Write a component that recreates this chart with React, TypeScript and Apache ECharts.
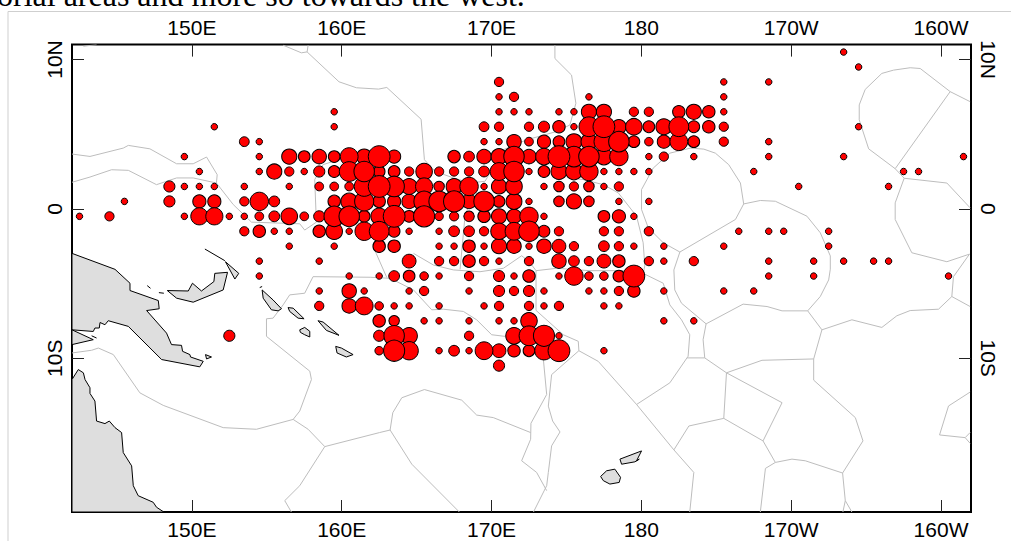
import React, { useEffect, useRef } from "react";
import * as echarts from "echarts";

const headerText = "orial areas and more so towards the west.";
const lonTicks = [150, 160, 170, 180, 190, 200];
const lonLabels = ["150E", "160E", "170E", "180", "170W", "160W"];
const latTicks = [10, 0, -10];
const latLabels = ["10N", "0", "10S"];

// latitude, then lon, catch pairs
const catchRows: [number, number[]][] = [
  [10.5, [193.5,1]],
  [9.5, [194.5,1]],
  [8.5, [170.5,2, 185.5,1, 188.5,1]],
  [7.5, [170.5,1, 171.5,2, 176.5,1, 185.5,1]],
  [6.5, [159.5,1, 170.5,1, 171.5,1, 172.5,1, 174.5,1, 175.5,1, 176.5,5.3, 177.5,5.3, 179.5,2, 180.5,2, 182.5,3.6, 183.5,5.3, 184.5,3.6, 185.5,1]],
  [5.5, [151.5,1, 159.5,1, 169.5,2.25, 170.5,2, 172.5,2, 173.5,2.9, 174.5,3.6, 175.5,1, 176.5,9, 177.5,10.9, 178.5,4.8, 179.5,6.3, 180.5,3.2, 181.5,5.8, 182.5,9, 183.5,3.2, 184.5,3.6, 185.5,2, 194.5,1]],
  [4.5, [153.5,2.25, 154.5,1, 169.5,1, 170.5,1, 171.5,4.8, 172.5,1.8, 173.5,4, 174.5,3.2, 175.5,5.8, 176.5,5.8, 177.5,9, 178.5,9.6, 179.5,3.2, 180.5,1.7, 181.5,4, 182.5,7.3, 183.5,3.2, 185.5,2, 188.5,1]],
  [3.5, [149.5,1, 154.5,1, 156.5,5.3, 157.5,3.2, 158.5,4.8, 159.5,3.2, 160.5,7.3, 161.5,5.3, 162.5,10.9, 163.5,4, 167.5,3.6, 168.5,2.7, 169.5,4.8, 170.5,5.8, 171.5,9.6, 172.5,4.8, 173.5,6.3, 174.5,10.9, 175.5,9.6, 176.5,9.6, 177.5,6.3, 178.5,7.8, 180.5,1, 181.5,2, 183.5,1, 188.5,1, 193.5,1, 201.5,1]],
  [2.5, [150.5,1, 154.5,1, 155.5,5.3, 156.5,2, 157.5,1, 158.5,2.9, 159.5,3.2, 160.5,9, 161.5,9.6, 162.5,3.2, 163.5,3.2, 164.5,2, 165.5,6.3, 166.5,2, 167.5,2, 168.5,2, 169.5,2.7, 170.5,7.3, 171.5,9.6, 172.5,1, 173.5,3.2, 174.5,5.8, 175.5,6.3, 176.5,7.8, 177.5,1, 178.5,1, 179.5,1, 180.5,1, 187.5,1, 197.5,1, 198.5,1]],
  [1.5, [148.5,2.9, 149.5,1, 150.5,1, 151.5,1, 153.5,1, 156.5,1, 158.5,1.8, 159.5,1.8, 160.5,1.8, 161.5,9, 162.5,10.9, 163.5,9.6, 164.5,5.8, 165.5,6.8, 166.5,2.6, 167.5,5.8, 168.5,7.8, 169.5,1, 170.5,5.3, 171.5,6.3, 173.5,1, 174.5,2.6, 175.5,2, 176.5,2.6, 177.5,1, 178.5,2, 190.5,1, 196.5,1]],
  [0.5, [145.5,1, 148.5,2.9, 150.5,4, 151.5,4, 153.5,2, 154.5,7.8, 155.5,2.7, 159.5,3.6, 160.5,6.3, 161.5,8.4, 162.5,3.6, 163.5,4, 164.5,4.8, 165.5,9.6, 166.5,9.6, 167.5,10.2, 168.5,4.8, 169.5,9.6, 170.5,3.2, 171.5,5.8, 172.5,1, 174.5,2.6, 175.5,5.3, 176.5,2.6, 178.5,1, 180.5,1]],
  [-0.5, [142.5,1, 144.5,2, 149.5,1, 150.5,6.8, 151.5,6.8, 152.5,1, 153.5,1, 154.5,1.8, 155.5,2.7, 156.5,6.3, 157.5,1.8, 158.5,2.9, 159.5,9.6, 160.5,9.6, 161.5,3.2, 162.5,6.3, 163.5,10.9, 164.5,3.2, 165.5,10.2, 166.5,1.7, 167.5,2, 168.5,2.6, 169.5,3.6, 170.5,5.3, 171.5,4.8, 172.5,7.8, 173.5,1, 177.5,3.2, 178.5,4, 179.5,1]],
  [-1.5, [153.5,2, 154.5,3.6, 155.5,1, 156.5,1, 158.5,3.6, 159.5,6.3, 160.5,1, 161.5,7.8, 162.5,9, 163.5,3.2, 164.5,1, 166.5,1, 167.5,2.7, 168.5,2.7, 169.5,2, 170.5,6.3, 171.5,7.3, 172.5,9.6, 173.5,3.2, 174.5,2, 177.5,2, 178.5,2, 180.5,2, 186.5,1, 188.5,1, 189.5,1, 192.5,1]],
  [-2.5, [156.5,1, 159.5,1, 162.5,3.6, 163.5,3.6, 166.5,1, 167.5,1, 168.5,3.6, 169.5,1, 170.5,5.3, 171.5,4.8, 172.5,1, 173.5,4.8, 174.5,4.4, 175.5,2, 177.5,2.7, 178.5,2, 179.5,1, 181.5,1, 185.5,1, 192.5,1]],
  [-3.5, [154.5,1, 158.5,1, 164.5,4.4, 166.5,2, 167.5,2, 168.5,3.6, 169.5,2, 170.5,1, 172.5,2, 174.5,4.8, 175.5,2.7, 176.5,2, 177.5,4.4, 178.5,3.6, 180.5,2, 181.5,1, 183.5,2, 188.5,1, 191.5,1, 193.5,1, 195.5,1, 196.5,1]],
  [-4.5, [154.5,1, 160.5,1, 162.5,1, 163.5,2.7, 164.5,3.2, 165.5,1.7, 166.5,1, 168.5,2, 170.5,2.9, 171.5,1, 172.5,3.6, 174.5,1, 175.5,7.8, 176.5,1.7, 177.5,1.7, 178.5,3.2, 179.5,10.9, 188.5,1, 191.5,1, 200.5,1]],
  [-5.5, [158.5,1, 160.5,4.8, 161.5,1, 164.5,1, 165.5,2, 168.5,1, 170.5,2.9, 171.5,2, 172.5,2.9, 173.5,1, 176.5,1, 177.5,1, 178.5,2, 179.5,3.6, 181.5,1, 185.5,1, 187.5,1]],
  [-6.5, [158.5,2, 160.5,4.8, 161.5,7.3, 162.5,1.7, 163.5,1, 164.5,1, 166.5,1, 169.5,1, 170.5,2, 172.5,2, 173.5,1, 174.5,2, 177.5,1, 178.5,1]],
  [-7.5, [162.5,3.6, 163.5,2.6, 165.5,1, 166.5,1, 168.5,1, 170.5,1, 171.5,1, 172.5,6.3, 181.5,1, 183.5,1]],
  [-8.5, [152.5,2.9, 162.5,2.9, 163.5,9.6, 164.5,6.3, 168.5,2, 171.5,6.3, 172.5,9, 173.5,10.2, 174.5,1]],
  [-9.5, [162.5,1.7, 163.5,10.2, 164.5,7.8, 166.5,1, 167.5,2.7, 168.5,1, 169.5,7.3, 170.5,4.4, 171.5,3.6, 172.5,3.2, 173.5,7.8, 174.5,10.9, 177.5,1]],
  [-10.5, [170.5,2.9]],
];

type Pt = [number, number];

const eezLines: Pt[][] = [
  [[142.76,10.89],[143.64,11]],
  [[142,3.67],[143.2,3.51],[145.42,4.07],[145.76,4.25],[147.2,4.02],[148.98,3.02],[150.09,3.02],[150.98,3.47],[151.69,2.29],[151.64,1.73]],
  [[142,1.78],[143.2,2.13],[144.64,2.62],[145.76,2.58],[147.64,1.62],[148.98,2.07],[150.09,2.07],[151.64,1.73],[152.76,0.29],[153.98,-0.89],[157.2,-1],[157.53,-1.42],[158.31,-0.89],[158.2,1.96],[158.76,2.96],[159.64,3.25]],
  [[156.09,10.96],[157.31,10.45],[157.69,10.51],[159.82,8.51],[160.98,8.11],[162.46,8.02],[163.01,8.13],[165.3,6],[165.52,3.29],[166.23,2.51],[167.46,2.07],[168.57,1.73],[169.57,1.85],[170.79,3.96],[172.34,4.62],[174.34,5.18],[175.23,5.62]],
  [[157.69,10.51],[157.76,10.96]],
  [[174.23,10.96],[174.23,10.07],[175.34,8.96],[175.63,7.07],[175.23,5.62]],
  [[168.57,1.73],[168.4,0],[168.23,-0.49],[167.9,-4.05]],
  [[175.23,2.07],[176.12,1.96],[177.46,1.62],[178.46,1.07],[179.68,-0.49],[180.12,-2.27],[180.23,-3.82],[180.12,-4.32]],
  [[164.79,-2.98],[166.12,-3.76],[167.46,-4.09],[169.23,-4.21],[170.79,-3.98],[172.01,-3.14],[172.52,-3.54],[172.97,-4.14],[174.34,-3.98],[176.57,-4.14],[178.79,-4.14],[180.12,-4.32],[181.46,-4.98],[181.9,-6.43],[182.68,-7.43],[183.23,-8.43],[183.12,-9.87],[181.9,-11.65],[179.68,-13.1]],
  [[158.09,-4.54],[161.9,-4.58],[163.23,-4.65],[164.79,-5.43],[166.01,-6.76],[166.79,-6.72],[168.12,-6.87],[169.01,-7.43],[170.01,-8.43],[170.9,-8.54]],
  [[162.1,-2.4],[162.3,-2.98],[163.01,-4.6]],
  [[158.09,-4.54],[157.53,-5.65],[156.53,-5.76],[156.09,-6.43],[155.42,-7.32],[154.98,-7.36],[154.98,-8.54],[157.87,-10.87],[157.98,-11.43],[157.2,-13.54],[156.76,-14.1]],
  [[156.76,-14.1],[154.31,-14.76],[152.09,-14.65],[148.09,-13.16],[146.53,-12.32],[144.76,-9.76],[143.76,-9.32],[143.31,-9.47],[142,-9.65]],
  [[156.76,-14.1],[157.76,-14.76],[158.87,-15.92],[162.53,-14.98],[163.23,-14.81]],
  [[158.87,-15.92],[157.2,-18.54],[156.2,-19.54],[156.64,-20.3]],
  [[163.23,-14.81],[163.41,-13.65],[164.01,-12.65],[165.52,-12.1],[168.01,-12.81],[169.01,-13.81],[170.12,-13.98],[172.61,-14.98]],
  [[163.23,-14.81],[164.68,-17.1],[167.85,-20.3]],
  [[173.46,-10.09],[173.68,-12.43],[172.63,-14.36],[172.61,-15.43],[172.01,-16.87],[173.01,-17.65],[173.68,-18.87]],
  [[175.83,-9.5],[174.01,-11.1],[173.79,-13.21],[174.08,-14.21],[174.57,-14.94],[174.01,-15.87],[173.79,-17.65],[173.68,-18.54],[172.8,-20.3]],
  [[175.83,-9.5],[177.12,-10.21],[179.68,-13.1],[182.17,-16.14],[183.5,-17.65],[183.23,-20.3]],
  [[172.97,-4.14],[172.97,-6.8],[174.79,-8.43],[175.79,-8.87],[175.83,-9.5]],
  [[182.17,-16.14],[183.17,-14.54],[185.5,-14.03]],
  [[182.57,-2.89],[182.17,-4.09],[182.23,-5.43],[182.68,-6.32],[184.32,-7.7]],
  [[183.28,4.07],[181.9,3.73],[180.79,2.73],[180.01,1.29],[180.01,-0.04],[180.46,-1.27],[181.46,-2.27],[182.57,-2.89],[186.28,-0.71],[186.83,0.33],[186.61,1.73],[185.83,2.96],[184.94,3.73],[184.17,4],[183.28,4.07]],
  [[186.83,0.33],[187.94,0.56],[188.94,0.51],[191.05,-0.49],[191.94,-1.6],[192.61,-3.15],[192.61,-4.04],[192.5,-4.76],[191.94,-5.87],[191.1,-6.83]],
  [[191.1,-6.83],[192.05,-8.1]],
  [[191.1,-6.83],[189.39,-6.83],[188.39,-6.54],[186.79,-6.38],[184.32,-7.7]],
  [[184.32,-7.7],[184.12,-8.76],[184.23,-9.98],[183.05,-9.98]],
  [[184.23,-9.98],[185.68,-10.98],[188.05,-10.14],[191.5,-10.05],[192.05,-8.1]],
  [[191.5,-10.05],[191.5,-11.47],[194.28,-13.98],[194.79,-15.54],[193.43,-17.69]],
  [[185.68,-10.98],[189.39,-12.98],[188.12,-15.54]],
  [[185.68,-10.98],[185.5,-14.03],[188.12,-15.54]],
  [[188.12,-15.54],[188.94,-16.98],[190.05,-16.76],[190.94,-16.87],[193.43,-17.69]],
  [[188.94,-16.98],[188.28,-17.38],[187.94,-20.3]],
  [[193.43,-17.69],[193.61,-19.54],[194.05,-20.3]],
  [[193.61,-19.54],[193.45,-20.3]],
  [[192.05,-8.1],[194.05,-7.43],[196.05,-7.94],[197.05,-7.16],[197.94,-6.81],[199.83,-6.72],[200.72,-5.87],[201.94,-6.54]],
  [[200.72,-5.87],[200.83,-4.54],[201.9,-3.03]],
  [[201.9,-3.03],[200.39,-3.54],[198.05,-2.94],[196.94,-0.71],[196.94,0.4],[197.54,2.05],[200.39,1.73],[201.94,0.07]],
  [[201.94,7.18],[200.61,7.85],[198.61,9.4],[197.94,9.45],[196.83,9.29],[196.05,9.07],[194.94,8],[194.54,6.96],[194.54,5.96],[195.17,4.02],[196.94,2.69],[197.54,2.05]],
  [[200.61,7.85],[196.94,2.69]],
  [[201.94,-12.27],[200.5,-13.2],[199.9,-15.14],[201.61,-15.32],[201.94,-15.7]],
  [[201.61,-15.32],[201.94,-14.98]],
];

const coastStrokes: Pt[][] = [
  [[143.31,-8.5],[143.64,-8.65]],
  [[150.87,-2.69],[152.2,-3.47]],
  [[147.02,-5.14],[147.24,-5.32]],
  [[147.8,-5.61],[148.13,-5.65]],
  [[154.53,-5.27],[154.69,-5.2]],
];

const landPolygons: Pt[][] = [
  [[142,-2.98],[144.87,-4.05],[145.87,-4.98],[145.87,-5.47],[147.76,-6.14],[147.82,-6.69],[146.98,-6.81],[148.31,-8.32],[148.64,-9.09],[149.31,-9.14],[149.38,-9.54],[149.87,-9.76],[149.91,-9.92],[150.76,-10.21],[150.53,-10.58],[147.98,-10.09],[145.76,-7.87],[144.42,-7.49],[144.2,-7.76],[143.87,-7.61],[143.82,-7.98],[143.53,-7.98],[143.42,-8.21],[142,-8.1]],
  [[142,-8.1],[143.42,-8.76],[142,-9.09]],
  [[148.36,-5.47],[149.76,-5.5],[150.04,-4.98],[150.64,-5.5],[151.47,-4.87],[151.53,-4.32],[152.38,-4.25],[152.09,-5.43],[150.09,-6.25],[148.98,-5.98]],
  [[152.24,-3.54],[153.13,-4.32],[152.87,-4.7]],
  [[150.91,-9.76],[151.31,-9.92],[150.98,-10.05]],
  [[154.69,-5.43],[155.42,-6.1],[155.98,-6.69],[155.76,-6.83],[155.31,-6.76],[154.76,-5.98]],
  [[156.42,-6.61],[156.76,-6.65],[157.49,-7.36],[157.09,-7.32],[156.53,-6.87]],
  [[157.2,-8.1],[157.53,-7.94],[157.87,-8.2],[157.87,-8.58],[157.53,-8.43],[157.24,-8.27]],
  [[158.42,-7.49],[158.76,-7.58],[159.82,-8.47],[158.98,-8.14]],
  [[159.6,-9.21],[159.98,-9.32],[160.76,-9.76],[160.31,-9.92],[159.69,-9.65]],
  [[142,-11.43],[142.42,-10.76],[142.76,-10.98],[142.87,-11.43],[143.2,-11.98],[143.2,-12.36],[143.53,-12.87],[143.64,-14.21],[144.2,-14.38],[144.49,-14.21],[144.87,-14.65],[145.31,-14.98],[145.42,-16.32],[145.98,-17.21],[146.09,-18.54],[146.42,-19.21],[147.42,-19.65],[147.64,-19.98],[148.13,-20.3],[142,-20.3]],
  [[178.57,-16.76],[180.01,-16.21],[179.68,-16.87],[179.86,-16.76],[179.57,-16.94],[178.68,-17.1]],
  [[177.28,-17.92],[177.68,-17.54],[178.23,-17.43],[178.61,-17.98],[178.52,-18.32],[177.9,-18.43],[177.46,-18.2]],
];

function polySeries(list: Pt[][], closed: boolean, style: any, z: number) {
  return {
    type: "custom",
    coordinateSystem: "cartesian2d",
    clip: true,
    silent: true,
    z,
    data: list.map((p) => p[0]),
    renderItem: (params: any, api: any) => {
      const points = list[params.dataIndex].map((p) => api.coord(p));
      return { type: closed ? "polygon" : "polyline", shape: { points }, style };
    },
  };
}

const points: [number, number, number][] = [];
catchRows.forEach(([lat, cells]) => {
  for (let i = 0; i < cells.length; i += 2) points.push([cells[i], lat, cells[i + 1]]);
});
points.sort((a, b) => a[2] - b[2]);

const SANS = "'Liberation Sans', Arial, sans-serif";

export default function App() {
  const ref = useRef<HTMLDivElement>(null);
  useEffect(() => {
    document.body.style.margin = "0";
    document.body.style.background = "#fff";
    const chart = echarts.init(ref.current!, undefined, { renderer: "svg" });
    const labelStyle = { color: "#000", fontFamily: SANS, fontSize: 21 };
    const lonFmt = (v: number) => lonLabels[lonTicks.indexOf(v)] ?? "";
    const latFmt = (v: number) => latLabels[latTicks.indexOf(v)] ?? "";
    const tick = { show: true, inside: true, length: 12, lineStyle: { color: "#222", width: 1 } };
    const xBase = (position: string) => ({
      type: "value", position, min: 142, max: 202,
      axisLine: { show: false, onZero: false }, splitLine: { show: false },
      axisTick: { ...tick, customValues: lonTicks },
      axisLabel: { ...labelStyle, margin: 7, customValues: lonTicks, formatter: lonFmt },
    });
    const yBase = (position: string, rotate: number) => ({
      type: "value", position, min: -20.3, max: 11,
      axisLine: { show: false, onZero: false }, splitLine: { show: false },
      axisTick: { ...tick, customValues: latTicks },
      axisLabel: { ...labelStyle, margin: 7, rotate, customValues: latTicks, formatter: latFmt },
    });
    chart.setOption({
      animation: false,
      backgroundColor: "#fff",
      grid: { left: 72, top: 44.6, width: 899, height: 467.4, show: true, borderColor: "#000", borderWidth: 2, backgroundColor: "transparent" },
      xAxis: [xBase("bottom"), xBase("top")],
      yAxis: [yBase("left", 90), yBase("right", -90)],
      graphic: [
        { type: "rect", z: -1, silent: true, shape: { x: 8, y: 11.5, width: 1100, height: 600 }, style: { fill: "none", stroke: "#cfcfcf", lineWidth: 1 } },
        { type: "text", silent: true, x: -3, y: -21.5, style: { text: headerText, fill: "#000", fontFamily: "'Liberation Serif', serif", fontSize: 32 } },
      ],
      series: [
        polySeries(eezLines, false, { fill: "none", stroke: "#bdbdbd", lineWidth: 1 }, 1),
        polySeries(landPolygons, true, { fill: "#dedede", stroke: "#000", lineWidth: 1 }, 2),
        polySeries(coastStrokes, false, { fill: "none", stroke: "#000", lineWidth: 1 }, 2),
        {
          type: "scatter", z: 3, data: points, clip: false,
          symbolSize: (d: number[]) => (20 / 3) * Math.sqrt(d[2]) - 0.2,
          itemStyle: { color: "#ff0000", borderColor: "#000", borderWidth: 1, opacity: 1 },
        },
      ],
    });
    return () => chart.dispose();
  }, []);
  return <div ref={ref} style={{ width: 1011, height: 541 }} />;
}
